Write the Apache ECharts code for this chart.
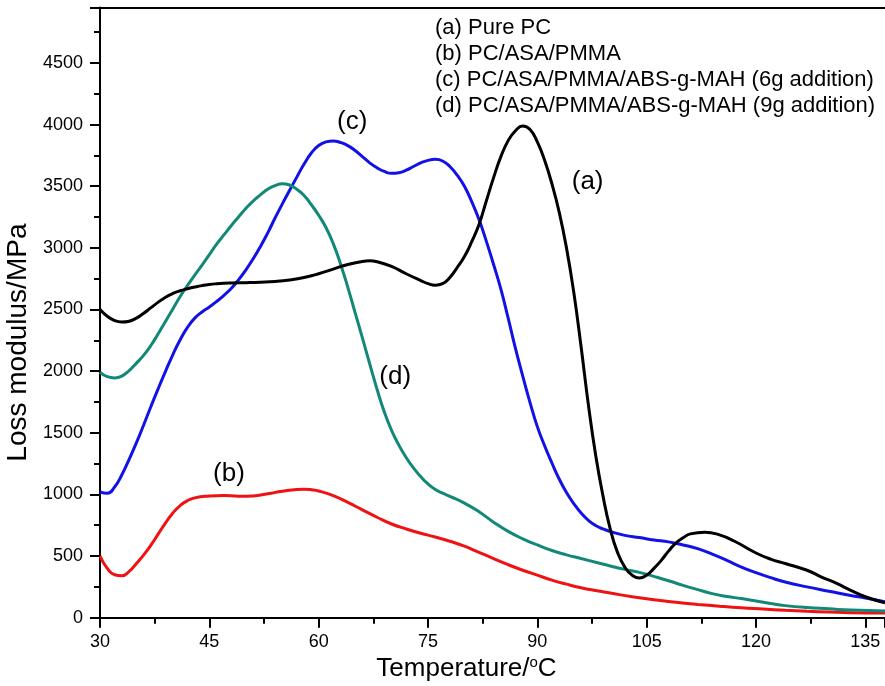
<!DOCTYPE html>
<html>
<head>
<meta charset="utf-8">
<script src="https://cdn.jsdelivr.net/npm/echarts@6/dist/echarts.min.js"></script>
<style>html,body{margin:0;padding:0;background:#fff;}#c{width:885px;height:686px;}</style>
</head>
<body>
<div id="c"></div>
<script>
// (a) Pure PC
var tempA = [30,31,32,33,34,35,36,37,38,39,40,41,42,43,44,45,46,47,48,50,52,54,56,58,60,62,64,66,67,68,70,72,74,75,76,77,78,79,80,81,82,83,84,85,86,87,88,89,90,91,92,93,94,95,96,97,98,99,100,101,102,103,104,105,106,107,108,109,110,111,113,115,117,120,122,124,127,129,131,133,135,137.7];
var lossA = [2500,2445,2410,2398,2405,2430,2470,2515,2560,2600,2630,2652,2668,2682,2694,2703,2709,2713,2715,2718,2722,2728,2740,2760,2790,2828,2865,2890,2895,2888,2850,2790,2735,2710,2697,2710,2760,2840,2930,3050,3190,3380,3570,3740,3870,3950,3988,3960,3860,3710,3520,3290,3000,2640,2200,1730,1320,990,720,530,410,345,322,345,400,465,540,605,648,680,694,672,622,525,475,440,385,330,280,222,170,120];
// (b) PC/ASA/PMMA
var tempB = [30,31,32,33,34,35,36,37,38,39,40,41,42,43,45,47,49,51,53,55,57,58,59,60,62,64,66,68,70,72,74,76,78,80,82,84,86,88,90,92,94,96,98,100,103,106,109,112,115,118,121,124,127,130,133,137.7];
var lossB = [500,400,348,340,375,440,510,590,680,770,850,910,950,972,987,992,985,988,1005,1025,1040,1042,1038,1028,990,935,875,815,760,720,685,655,620,580,530,480,430,385,345,305,272,243,220,200,170,145,125,108,93,80,70,60,52,46,41,38];
// (c) PC/ASA/PMMA/ABS-g-MAH (6g addition)
var tempC = [30,31,32,33,34,35,36,37,38,39,40,41,42,43,44,45,46,47,48,49,50,51,52,53,54,55,56,57,58,59,60,61,62,63,64,65,66,67,68,69,70,71,72,73,74,75,76,77,78,79,80,81,82,83,84,85,86,87,88,89,90,91,92,93,94,95,96,97,98,99,100,102,104,106,108,110,112,114,116,118,120,122,124,127,130,133,135,137.7];
var lossC = [1020,1010,1060,1160,1285,1420,1565,1715,1860,2000,2135,2255,2355,2430,2480,2520,2565,2615,2670,2740,2820,2910,3010,3120,3240,3355,3465,3574,3680,3770,3830,3860,3868,3855,3830,3790,3740,3690,3650,3620,3605,3610,3630,3660,3690,3710,3718,3705,3660,3590,3500,3375,3230,3055,2865,2665,2430,2185,1960,1745,1550,1395,1255,1125,1015,925,850,790,748,720,700,668,650,630,615,590,560,515,465,411,365,325,290,250,215,180,160,130];
// (d) PC/ASA/PMMA/ABS-g-MAH (9g addition)
var tempD = [30,31,32,33,34,35,36,37,38,39,40,41,42,43,44,45,46,47,48,49,50,51,52,53,54,55,56,57,58,59,60,61,62,63,64,65,66,67,68,69,70,71,72,73,74,75,76,77,78,80,82,84,86,88,90,92,94,96,98,100,102,104,106,108,110,112,114,116,118,120,122,124,127,130,133,137.7];
var lossD = [1990,1955,1945,1960,2005,2065,2130,2210,2305,2405,2505,2605,2695,2780,2860,2945,3030,3105,3180,3250,3320,3380,3430,3475,3505,3520,3510,3475,3425,3350,3265,3165,3035,2870,2680,2475,2270,2060,1855,1670,1520,1400,1300,1215,1145,1085,1040,1010,985,930,860,775,700,640,590,545,510,480,450,420,392,368,335,300,262,228,195,172,155,135,115,98,82,72,62,54];

var seriesNames = ['(a) Pure PC','(b) PC/ASA/PMMA','(c) PC/ASA/PMMA/ABS-g-MAH (6g addition)','(d) PC/ASA/PMMA/ABS-g-MAH (9g addition)'];
var curveTags = ['(a)','(b)','(c)','(d)'];
var tagTemp = [96.9, 47.7, 64.6, 70.5];
var tagLoss = [3534, 1165, 4020, 1952];
var colors = ['#000000','#f01212','#1212e6','#128878'];

function pairs(xs, ys){ return xs.map(function(x,i){ return [x, ys[i]]; }); }
var temps = [tempA, tempB, tempC, tempD];
var losses = [lossA, lossB, lossC, lossD];

var font = 'Arial, "Liberation Sans", Helvetica, sans-serif';
var series = seriesNames.map(function(name, i){
  return {
    name: name, type: 'line', data: pairs(temps[i], losses[i]),
    smooth: 0.5, showSymbol: false, symbol: 'none',
    lineStyle: { color: colors[i], width: 3 }, itemStyle: { color: colors[i] },
    z: 3 + (i === 0 ? 1 : 0),
    markPoint: {
      symbol: 'circle', symbolSize: 0, silent: true,
      data: [{ coord: [tagTemp[i], tagLoss[i]] }],
      label: { show: true, position: 'inside', formatter: curveTags[i], color: '#000', fontSize: 26, fontFamily: font }
    }
  };
});

var chart = echarts.init(document.getElementById('c'));
chart.setOption({
  backgroundColor: '#fff',
  animation: false,
  textStyle: { fontFamily: font },
  grid: { left: 100, right: 0, top: 7.5, bottom: 68.3, containLabel: false, outerBoundsMode: 'none' },
  legend: {
    data: seriesNames, orient: 'vertical', left: 425, top: 10,
    icon: 'circle', itemWidth: 0, itemHeight: 0, itemGap: 0, selectedMode: false,
    textStyle: { color: '#000', fontSize: 22, lineHeight: 26, fontFamily: font }
  },
  xAxis: [{
    type: 'value', min: 30, max: 137.7, interval: 15,
    name: 'Temperature/{s|o}C', nameLocation: 'middle', nameGap: 36,
    nameTextStyle: { color: '#000', fontSize: 26, fontFamily: font, padding: [0, 52, 0, 0],
      rich: { s: { fontSize: 15, verticalAlign: 'top', color: '#000', padding: [0, 0, 8, 0] } } },
    axisLine: { show: true, onZero: false, lineStyle: { color: '#000', width: 2 } },
    axisTick: { show: true, inside: false, length: 10, lineStyle: { color: '#000', width: 2 } },
    minorTick: { show: true, splitNumber: 2, length: 6, lineStyle: { color: '#000', width: 2 } },
    axisLabel: { color: '#000', fontSize: 18, margin: 15, showMaxLabel: false, fontFamily: font },
    splitLine: { show: false }
  }, {
    type: 'value', position: 'top', min: 30, max: 137.7,
    axisLine: { show: true, onZero: false, lineStyle: { color: '#000', width: 2 } },
    axisTick: { show: false }, axisLabel: { show: false }, splitLine: { show: false }
  }],
  yAxis: {
    type: 'value', min: 0, max: 4950, interval: 500,
    name: 'Loss modulus/MPa', nameLocation: 'middle', nameGap: 58,
    nameTextStyle: { color: '#000', fontSize: 28, fontFamily: font, padding: [0, 60, 0, 0] },
    axisLine: { show: true, onZero: false, lineStyle: { color: '#000', width: 2 } },
    axisTick: { show: true, inside: false, length: 10, lineStyle: { color: '#000', width: 2 } },
    minorTick: { show: true, splitNumber: 2, length: 6, lineStyle: { color: '#000', width: 2 } },
    axisLabel: { color: '#000', fontSize: 18, margin: 17, showMaxLabel: false, fontFamily: font,
      formatter: function(v){ return String(v); } },
    splitLine: { show: false }
  },
  series: series
});
</script>
</body>
</html>
